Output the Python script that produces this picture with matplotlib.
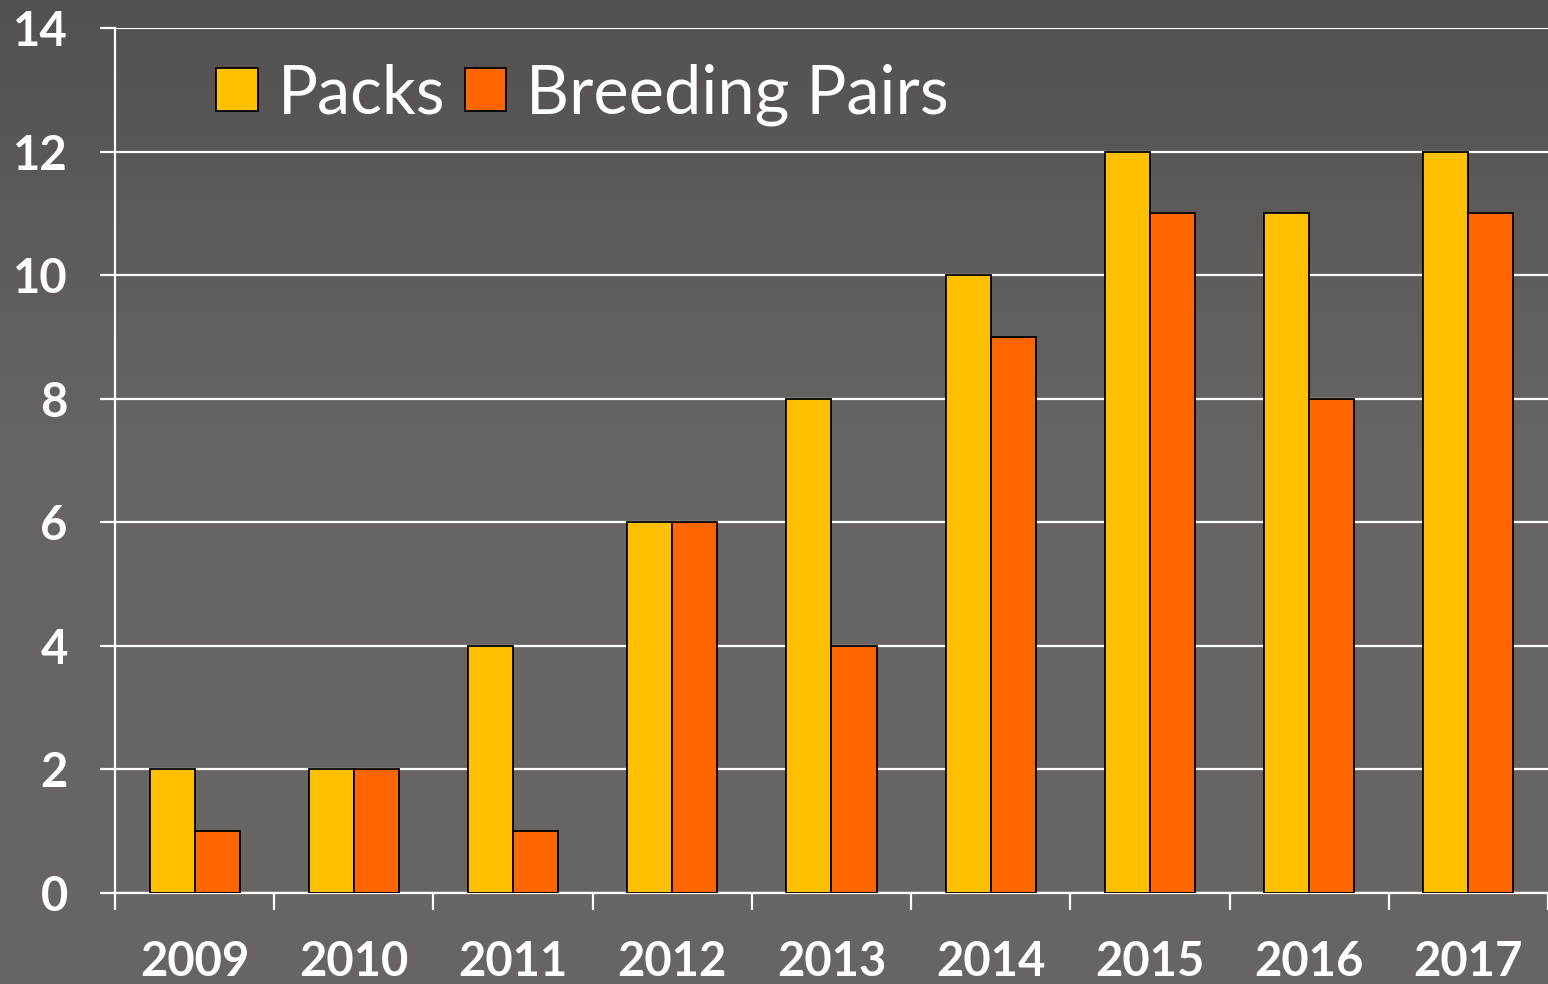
import matplotlib
matplotlib.use('Agg')
import matplotlib.pyplot as plt
import numpy as np
from matplotlib.colors import LinearSegmentedColormap

years = ['2009', '2010', '2011', '2012', '2013', '2014', '2015', '2016', '2017']
packs = [2, 2, 4, 6, 8, 10, 12, 11, 12]
breeding_pairs = [1, 2, 1, 6, 4, 9, 11, 8, 11]
yticks = [0, 2, 4, 6, 8, 10, 12, 14]

plt.rcParams['font.family'] = ['Lato', 'DejaVu Sans']

fig = plt.figure(figsize=(15.48, 9.84), dpi=100)

# background gradient
bg = fig.add_axes([0, 0, 1, 1], zorder=-10)
cmap = LinearSegmentedColormap.from_list('bg', [(0, '#686564'), (0.55, '#676463'), (1, '#53504f')])
grad = np.linspace(0, 1, 256).reshape(-1, 1)
bg.imshow(grad, aspect='auto', cmap=cmap, origin='lower', extent=[0, 1, 0, 1])
bg.axis('off')

ax = fig.add_axes([115 / 1548, 91 / 984, 1 - 115 / 1548, (893 - 28) / 984])
ax.patch.set_alpha(0)

x = np.arange(len(years))
w = 0.283
ax.bar(x - w / 2, packs, w, color='#FFC000', edgecolor='black', linewidth=1.3, label='Packs', zorder=3)
ax.bar(x + w / 2, breeding_pairs, w, color='#FF6600', edgecolor='black', linewidth=1.3,
       label='Breeding Pairs', zorder=3)

ax.set_xlim(-0.5, 8.484)
ax.set_ylim(0, 14)
ax.set_yticks(yticks)
ax.set_yticklabels([str(v) for v in yticks], fontsize=34, fontweight='bold', color='white')
ax.yaxis.grid(True, color='white', linewidth=1.6, zorder=1)
ax.set_axisbelow(True)

ax.set_xticks(np.arange(len(years) + 1) - 0.5)
ax.set_xticklabels([])
ax.set_xticks(x, minor=True)
ax.set_xticklabels(years, minor=True, fontsize=34, fontweight='bold', color='white')
ax.tick_params(axis='x', which='major', direction='out', length=12, width=1.6, color='white')
ax.tick_params(axis='x', which='minor', length=0, pad=34)
ax.tick_params(axis='y', direction='out', length=11, width=1.6, color='white', pad=23)

for s in ['top', 'right']:
    ax.spines[s].set_visible(False)
for s in ['left', 'bottom']:
    ax.spines[s].set_color('white')
    ax.spines[s].set_linewidth(1.6)

leg = ax.legend(loc='upper left', bbox_to_anchor=(0.052, 0.99), ncol=2, frameon=False,
                fontsize=48, handlelength=0.62, handleheight=0.62, handletextpad=0.3,
                columnspacing=0.3, borderaxespad=0)
for t in leg.get_texts():
    t.set_color('white')

fig.savefig('out.png', dpi=100)
